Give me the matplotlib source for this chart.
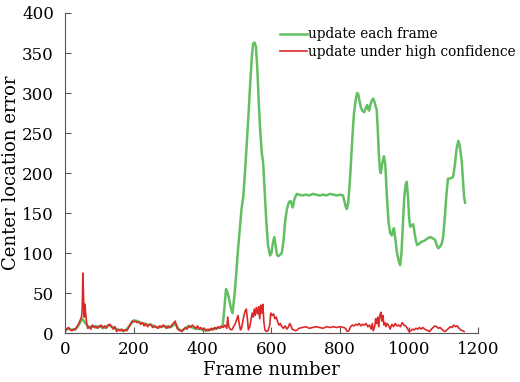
"""Center location error per frame: update each frame vs. update under high confidence."""

import matplotlib
matplotlib.use("Agg")
import matplotlib.pyplot as plt

plt.rcParams["font.family"] = ["DejaVu Serif"]

# ── Data ──
green_frames = [0, 10, 20, 30, 40, 50, 60, 70, 80, 90, 100, 110, 120, 130, 140, 150, 160, 170,
                180, 190, 200, 210, 220, 230, 240, 250, 260, 270, 280, 290, 300, 310, 320, 330,
                340, 350, 360, 370, 380, 390, 400, 410, 420, 430, 440, 450, 458, 463, 468, 473,
                478, 483, 487, 492, 497, 502, 508, 513, 518, 523, 528, 533, 538, 543, 547, 551,
                555, 559, 563, 567, 572, 576, 580, 585, 590, 596, 600, 604, 608, 612, 616, 620,
                625, 630, 635, 640, 645, 651, 656, 662, 667, 674, 680, 690, 700, 710, 720, 730,
                740, 750, 760, 770, 780, 790, 800, 808, 812, 816, 819, 823, 828, 832, 836, 840,
                845, 849, 852, 856, 860, 864, 869, 873, 878, 881, 884, 888, 892, 896, 900, 903,
                906, 909, 912, 915, 918, 922, 927, 931, 935, 940, 945, 950, 953, 956, 960, 965,
                970, 974, 978, 982, 986, 990, 993, 997, 1000, 1003, 1008, 1012, 1016, 1020, 1024,
                1030, 1036, 1042, 1047, 1052, 1057, 1061, 1066, 1071, 1076, 1080, 1085, 1090,
                1095, 1099, 1104, 1108, 1113, 1118, 1123, 1128, 1133, 1138, 1143, 1147, 1150,
                1153, 1157, 1160, 1163]
green_values = [3, 6, 4, 5, 10, 18, 12, 7, 9, 7, 9, 6, 8, 10, 7, 5, 4, 3,
                5, 11, 16, 15, 13, 12, 10, 11, 8, 7, 8, 9, 7, 8, 12, 5,
                3, 6, 9, 7, 5, 6, 4, 3, 4, 5, 6, 7, 8, 30, 55, 50,
                40, 30, 25, 45, 70, 100, 130, 155, 170, 200, 235, 270, 310, 345, 362, 363,
                358, 330, 290, 255, 225, 212, 180, 140, 110, 97, 100, 112, 120, 110, 98, 96,
                98, 100, 115, 140, 155, 164, 165, 157, 168, 174, 173, 172, 173, 172, 174, 173,
                172, 173, 172, 174, 173, 172, 173, 172, 165, 158, 155, 162, 190, 220, 250, 275,
                292, 300, 299, 290, 282, 278, 276, 280, 285, 280, 278, 286, 291, 293, 288, 283,
                279, 255, 225, 205, 200, 212, 221, 210, 175, 140, 125, 122, 128, 131, 118, 100,
                90, 85, 100, 135, 170, 185, 189, 170, 145, 133, 135, 136, 125, 115, 110,
                112, 114, 115, 116, 118, 119, 120, 119, 118, 116, 110, 106, 108,
                112, 120, 145, 170, 193, 193, 194, 195, 210, 230, 240, 235, 225,
                215, 190, 170, 163]

red_frames = [0, 5, 10, 15, 20, 25, 30, 35, 40, 45, 48, 50, 52, 54, 56, 58, 60, 63, 66, 70,
              75, 80, 85, 90, 95, 100, 105, 110, 115, 120, 125, 130, 135, 140, 145, 150, 155,
              160, 165, 170, 175, 180, 185, 190, 195, 200, 205, 210, 215, 220, 225, 230, 235,
              240, 245, 250, 255, 260, 265, 270, 275, 280, 285, 290, 295, 300, 305, 310, 315,
              320, 323, 326, 330, 335, 340, 345, 350, 355, 360, 365, 370, 375, 380, 385, 390,
              395, 400, 405, 410, 415, 420, 425, 430, 435, 440, 445, 450, 455, 460, 465, 470,
              473, 476, 480, 485, 490, 495, 500, 503, 506, 510, 513, 517, 520, 524, 527, 530,
              533, 537, 540, 544, 547, 550, 553, 556, 560, 563, 566, 569, 572, 575, 578, 581,
              585, 590, 595, 598, 602, 606, 610, 614, 618, 622, 626, 630, 635, 640, 645, 650,
              653, 657, 660, 665, 670, 675, 680, 690, 700, 710, 720, 730, 740, 750, 760, 770,
              780, 790, 800, 810, 815, 820, 825, 830, 835, 840, 845, 850, 855, 860, 865, 870,
              875, 880, 885, 890, 893, 896, 900, 903, 906, 909, 912, 915, 918, 921, 924, 927,
              930, 933, 936, 940, 945, 950, 955, 960, 965, 970, 975, 980, 985, 990, 995, 1000,
              1005, 1010, 1015, 1020, 1025, 1030, 1035, 1040, 1045, 1050, 1055, 1060, 1065,
              1070, 1075, 1080, 1085, 1090, 1095, 1100, 1105, 1110, 1115, 1120, 1125, 1130,
              1135, 1140, 1145, 1150, 1155, 1160]
red_values = [2, 5, 7, 4, 3, 5, 4, 8, 12, 17, 20, 30, 75, 45, 20, 36, 25, 12, 6, 8,
              5, 10, 7, 9, 6, 8, 10, 7, 9, 6, 10, 11, 8, 5, 8, 2, 4,
              3, 5, 2, 4, 3, 7, 10, 15, 14, 15, 13, 14, 11, 13, 9, 12,
              8, 11, 10, 7, 9, 8, 6, 9, 7, 10, 8, 6, 9, 7, 10, 12,
              15, 11, 6, 4, 3, 2, 5, 7, 5, 9, 7, 10, 8, 6, 9, 5,
              7, 4, 6, 3, 5, 3, 6, 4, 7, 5, 8, 6, 9, 7, 10, 6,
              20, 8, 5, 4, 8, 12, 18, 22, 12, 4, 6, 15, 22, 28, 30, 18,
              4, 8, 15, 25, 20, 30, 22, 32, 24, 33, 18, 35, 25, 36, 14, 4,
              2, 3, 10, 25, 22, 24, 18, 20, 14, 10, 12, 8, 6, 9, 5, 8,
              12, 9, 5, 4, 3, 4, 6, 7, 8, 6, 7, 8, 7, 6, 8, 7,
              8, 7, 8, 7, 6, 2, 3, 8, 10, 9, 11, 10, 12, 9, 11, 10,
              12, 8, 10, 5, 12, 3, 8, 18, 12, 20, 8, 22, 26, 15, 22, 10,
              13, 8, 12, 10, 5, 11, 8, 12, 9, 10, 8, 13, 10, 9, 6, 2,
              3, 5, 4, 6, 5, 7, 5, 7, 5, 4, 3, 2, 5,
              7, 9, 8, 6, 7, 5, 3, 2, 4, 6, 8, 7, 10,
              8, 9, 6, 4, 3, 2]

GREEN = "#62c062"
RED = "#dc2828"

fig = plt.figure(figsize=(5.2, 3.82), dpi=100)
ax = fig.add_axes([0.125, 0.128, 0.794, 0.838])

ax.plot(green_frames, green_values, color=GREEN, linewidth=1.8, label="update each frame")
ax.plot(red_frames, red_values, color=RED, linewidth=1.2, label="update under high confidence")

ax.set_xlim(0, 1200)
ax.set_ylim(0, 400)
ax.set_xticks([0, 200, 400, 600, 800, 1000, 1200])
ax.set_yticks([0, 50, 100, 150, 200, 250, 300, 350, 400])
for side in ("top", "right"):
    ax.spines[side].set_visible(False)
for side in ("left", "bottom"):
    ax.spines[side].set_color("#555555")
ax.tick_params(direction="in", length=4, width=0.8, color="#555555", labelsize=12)
ax.tick_params(axis="x", pad=6)
ax.tick_params(axis="y", pad=8)

ax.set_xlabel("Frame number", fontsize=13)
ax.set_ylabel("Center location error", fontsize=13)
ax.xaxis.set_label_coords(0.5, -0.088)
ax.yaxis.set_label_coords(-0.108, 0.5)

ax.legend(loc="upper right", bbox_to_anchor=(1.115, 0.985), frameon=False, fontsize=9.8,
          handlelength=2.0, handletextpad=0.1, labelspacing=0.25, borderaxespad=0.3)

fig.savefig("out.png", dpi=100)
